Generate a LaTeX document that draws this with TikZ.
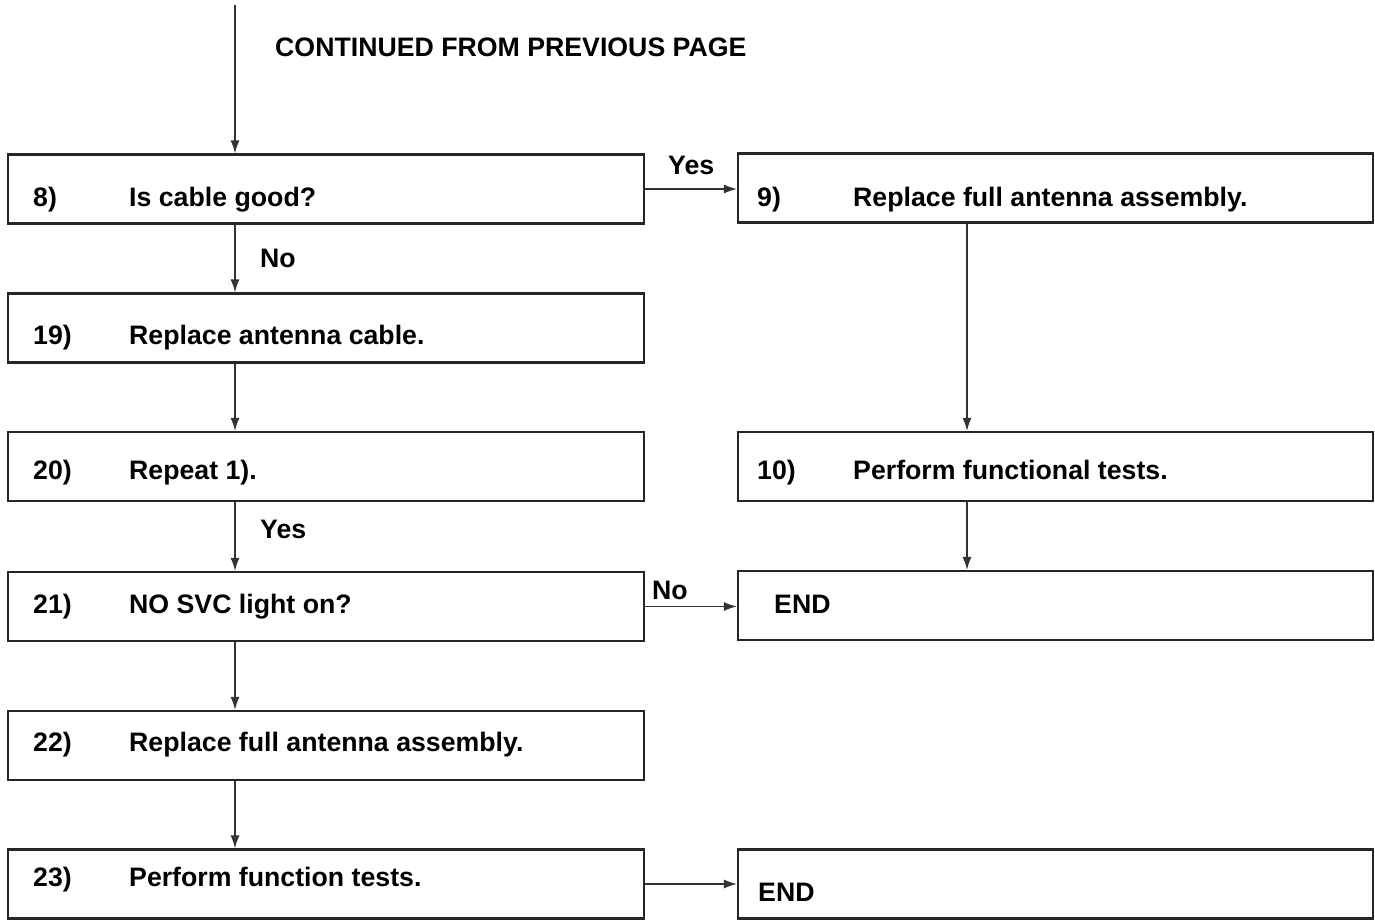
\documentclass[tikz,border=0pt]{standalone}
\usepackage{fontspec}
\setmainfont{Liberation Sans}
\usetikzlibrary{arrows.meta}
\definecolor{linegray}{HTML}{333333}
\begin{document}
\begin{tikzpicture}[x=1pt,y=-1pt,
  boxL/.style={draw=black!85,line width=2.2pt,rectangle,minimum width=636pt,minimum height=69pt,inner sep=0pt},
  boxR/.style={draw=black!85,line width=2.2pt,rectangle,minimum width=635pt,minimum height=69pt,inner sep=0pt},
  lbl/.style={anchor=base west,inner sep=0pt,font=\fontsize{26.7}{32}\selectfont\bfseries},
  arr/.style={draw=linegray,line width=1.4pt,-{Latex[length=13pt,width=9pt]}}]
\useasboundingbox[fill=white] (0,0) rectangle (1375,920);
% columns
\coordinate (top) at (235,5);
\coordinate (colR) at (967,0);
% left boxes
\node[boxL] (b8)  at (326,189)   {};
\node[boxL] (b19) at (326,328)   {};
\node[boxL] (b20) at (326,466.5) {};
\node[boxL] (b21) at (326,606.5) {};
\node[boxL] (b22) at (326,745.5) {};
\node[boxL] (b23) at (326,884)   {};
% right boxes
\node[boxR] (b9)   at (1055.5,188)   {};
\node[boxR] (b10)  at (1055.5,466.5) {};
\node[boxR] (end1) at (1055.5,605.5) {};
\node[boxR] (end2) at (1055.5,884)   {};
% texts
\node[lbl] (tcont) at (275,57) {CONTINUED FROM PREVIOUS PAGE};
\node[lbl] (n8)  at (33,206) {8)};   \node[lbl] (t8)  at (129,206) {Is cable good?};
\node[lbl] (n19) at (33,344) {19)};  \node[lbl] (t19) at (129,344) {Replace antenna cable.};
\node[lbl] (n20) at (33,479) {20)};  \node[lbl] (t20) at (129,479) {Repeat 1).};
\node[lbl] (n21) at (33,613) {21)};  \node[lbl] (t21) at (129,613) {NO SVC light on?};
\node[lbl] (n22) at (33,751) {22)};  \node[lbl] (t22) at (129,751) {Replace full antenna assembly.};
\node[lbl] (n23) at (33,886) {23)};  \node[lbl] (t23) at (129,886) {Perform function tests.};
\node[lbl] (n9)  at (757,206) {9)};  \node[lbl] (t9)  at (853,206) {Replace full antenna assembly.};
\node[lbl] (n10) at (757,479) {10)}; \node[lbl] (t10) at (853,479) {Perform functional tests.};
\node[lbl] (te1) at (774,613) {END};
\node[lbl] (te2) at (758,901) {END};
% connector labels
\node[lbl] (lyes1) at (668,175) {Yes};
\node[lbl] (lno1)  at (260,267) {No};
\node[lbl] (lyes2) at (260,538) {Yes};
\node[lbl] (lno2)  at (652,599) {No};
% connectors
\draw[arr] (top) -- (b8.north -| top);
\draw[arr] (b8.south -| top) -- (b19.north -| top);
\draw[arr] (b19.south -| top) -- (b20.north -| top);
\draw[arr] (b20.south -| top) -- (b21.north -| top);
\draw[arr] (b21.south -| top) -- (b22.north -| top);
\draw[arr] (b22.south -| top) -- (b23.north -| top);
\draw[arr] (b9.south -| colR) -- (b10.north -| colR);
\draw[arr] (b10.south -| colR) -- (end1.north -| colR);
\draw[arr] (b8.east) -- (b9.west |- b8.east);
\draw[arr] (b21.east) -- (end1.west |- b21.east);
\draw[arr] (b23.east) -- (end2.west);
\end{tikzpicture}
\end{document}
